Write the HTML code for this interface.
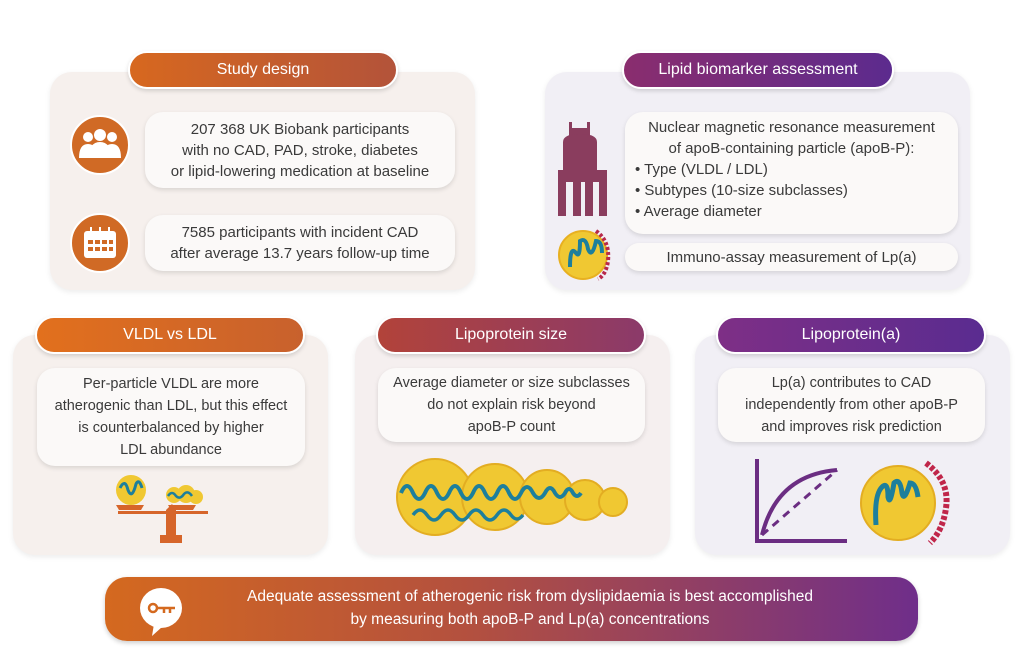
<!DOCTYPE html>
<html><head><meta charset="utf-8"><style>
*{margin:0;padding:0;box-sizing:border-box}
body{width:1024px;height:650px;background:#fff;position:relative;overflow:hidden;font-family:"Liberation Sans",sans-serif;color:#3a3a3a}
.a{position:absolute}
.panel{position:absolute;border-radius:22px;box-shadow:0 2px 6px rgba(0,0,0,.08)}
.warm{background:#f6f0ed}
.cool{background:#f1eff5}
.pill{position:absolute;border-radius:20px;color:#fff;font-size:16px;display:flex;align-items:center;justify-content:center;box-shadow:0 2px 4px rgba(0,0,0,.15);border:2px solid #fff}
.box{position:absolute;background:#fbf9f8;border-radius:18px;box-shadow:0 2px 5px rgba(0,0,0,.12);font-size:14.5px;line-height:21px;text-align:center;display:flex;align-items:center;justify-content:center}
</style></head><body>

<div class="panel warm" style="left:50px;top:72px;width:425px;height:218px"></div>
<div class="pill" style="left:128px;top:51px;width:270px;height:38px;background:linear-gradient(90deg,#d7681f,#b3533a)">Study design</div>
<div class="a" style="left:70px;top:115px;width:60px;height:60px;border-radius:50%;background:#d06a25;border:2px solid #fff"></div>
<svg class="a" style="left:78px;top:128px" width="44" height="32" viewBox="0 0 44 32"><g fill="#fff"><circle cx="10" cy="9" r="5"/><circle cx="22" cy="7" r="6"/><circle cx="34" cy="9" r="5"/><path d="M1 30q0-14 9-14q9 0 9 14z"/><path d="M25 30q0-14 9-14q9 0 9 14z"/><path d="M11 30q0-16 11-16q11 0 11 16z"/></g></svg>
<div class="a" style="left:70px;top:213px;width:60px;height:60px;border-radius:50%;background:#d06a25;border:2px solid #fff"></div>
<svg class="a" style="left:82px;top:226px" width="36" height="34" viewBox="0 0 36 34"><rect x="2" y="5" width="32" height="27" rx="3" fill="#fff"/><g fill="#d06a25"><rect x="6" y="14" width="5" height="4"/><rect x="13" y="14" width="5" height="4"/><rect x="20" y="14" width="5" height="4"/><rect x="27" y="14" width="4" height="4"/><rect x="6" y="21" width="5" height="4"/><rect x="13" y="21" width="5" height="4"/><rect x="20" y="21" width="5" height="4"/><rect x="27" y="21" width="4" height="4"/></g><g stroke="#fff" stroke-width="2"><line x1="9" y1="1" x2="9" y2="7"/><line x1="18" y1="1" x2="18" y2="7"/><line x1="27" y1="1" x2="27" y2="7"/></g></svg>
<div class="box" style="left:145px;top:112px;width:310px;height:76px;font-size:15px">207 368 UK Biobank participants<br>with no CAD, PAD, stroke, diabetes<br>or lipid-lowering medication at baseline</div>
<div class="box" style="left:145px;top:215px;width:310px;height:56px;font-size:15px">7585 participants with incident CAD<br>after average 13.7 years follow-up time</div>

<div class="panel cool" style="left:545px;top:72px;width:425px;height:218px"></div>
<div class="pill" style="left:622px;top:51px;width:272px;height:38px;background:linear-gradient(90deg,#8a2d6e,#5c2b8e)">Lipid biomarker assessment</div>
<svg class="a" style="left:555px;top:122px" width="55" height="95" viewBox="0 0 55 95"><g fill="#8a3d5e"><rect x="14" y="0" width="3" height="10"/><rect x="32" y="0" width="3" height="10"/><rect x="14" y="6" width="21" height="8"/><path d="M8 20q0-8 17-8q17 0 17 8v35H8z"/><rect x="3" y="48" width="49" height="12"/><rect x="3" y="60" width="8" height="34"/><rect x="18" y="60" width="8" height="34"/><rect x="30" y="60" width="8" height="34"/><rect x="44" y="60" width="8" height="34"/></g></svg>
<svg class="a" style="left:556px;top:225px" width="58" height="58" viewBox="0 0 58 58"><circle cx="27" cy="30" r="24" fill="#f0c832" stroke="#e8b020" stroke-width="2"/><path d="M14 42q0-22 6-14q4 6 4-12q6-4 8 8q4 10 8-8q6 0 6 12" stroke="#1d7f9c" stroke-width="4" fill="none"/><path d="M40 6q14 10 12 30q-2 14-10 18" stroke="#b8284a" stroke-width="4" stroke-dasharray="3 2" fill="none"/></svg>
<div class="box" style="left:625px;top:112px;width:333px;height:122px;display:block;text-align:left;padding:5px 0 0 10px;font-size:15px">
<div style="text-align:center;padding-right:10px">Nuclear magnetic resonance measurement<br>of apoB-containing particle (apoB-P):</div>
<div>• Type (VLDL / LDL)</div><div>• Subtypes (10-size subclasses)</div><div>• Average diameter</div></div>
<div class="box" style="left:625px;top:243px;width:333px;height:28px;font-size:15px">Immuno-assay measurement of Lp(a)</div>

<div class="panel warm" style="left:13px;top:335px;width:315px;height:220px"></div>
<div class="pill" style="left:35px;top:316px;width:270px;height:38px;background:linear-gradient(90deg,#e2701d,#c8612d)">VLDL vs LDL</div>
<div class="box" style="left:37px;top:368px;width:268px;height:98px;font-size:14.5px;line-height:22px">Per-particle VLDL are more<br>atherogenic than LDL, but this effect<br>is counterbalanced by higher<br>LDL abundance</div>
<svg class="a" style="left:108px;top:470px" width="120" height="75" viewBox="0 0 120 75"><g fill="#d6652a"><path d="M64 34l-6 6v25h-6v8h22v-8h-6V40z"/><rect x="10" y="41" width="90" height="3"/><path d="M8 35h28l-3 5H11z"/><path d="M60 35h28l-3 5H63z"/></g><circle cx="23" cy="20" r="15" fill="#f0c832"/><path d="M12 18q5-10 8 2q4 10 8-6q3-6 6 4" stroke="#1d7f9c" stroke-width="3" fill="none"/><circle cx="66" cy="25" r="8" fill="#f0c832"/><circle cx="78" cy="24" r="9" fill="#f0c832"/><circle cx="88" cy="27" r="7" fill="#f0c832"/><path d="M60 26q4-6 8 0q4 4 8-2q4-4 8 2" stroke="#1d7f9c" stroke-width="2.5" fill="none"/></svg>

<div class="panel warm" style="left:355px;top:335px;width:315px;height:220px;background:#f5efef"></div>
<div class="pill" style="left:376px;top:316px;width:270px;height:38px;background:linear-gradient(90deg,#b2433a,#8b3a6a)">Lipoprotein size</div>
<div class="box" style="left:378px;top:368px;width:267px;height:74px;font-size:14.5px;line-height:22px">Average diameter or size subclasses<br>do not explain risk beyond<br>apoB-P count</div>
<svg class="a" style="left:395px;top:455px" width="235" height="85" viewBox="0 0 235 85"><circle cx="40" cy="42" r="38" fill="#f0c832" stroke="#e3ad22" stroke-width="2"/><circle cx="100" cy="42" r="33" fill="#f0c832" stroke="#e3ad22" stroke-width="2"/><circle cx="152" cy="42" r="27" fill="#f0c832" stroke="#e3ad22" stroke-width="2"/><circle cx="190" cy="45" r="20" fill="#f0c832" stroke="#e3ad22" stroke-width="2"/><circle cx="218" cy="47" r="14" fill="#f0c832" stroke="#e3ad22" stroke-width="2"/>
<path d="M6 38q6-14 12 0q6 12 12 0q6-14 12 0q6 12 12 0q6-14 12 0q6 12 12 0q6-14 12 0q6 12 12 0q6-14 12 0q6 12 12 0q6-12 12 0q6 10 12 0q5-10 10 0q5 8 10 0q4-8 8 0q4 6 8 0" stroke="#1d7f9c" stroke-width="4" fill="none"/>
<path d="M18 60q7-10 14 0q7 10 14 0q7-10 14 0q7 10 14 0q7-10 14 0q7 10 14 0q7-10 14 0q6 8 12 0" stroke="#1d7f9c" stroke-width="3.5" fill="none"/></svg>

<div class="panel cool" style="left:695px;top:335px;width:315px;height:220px"></div>
<div class="pill" style="left:716px;top:316px;width:270px;height:38px;background:linear-gradient(90deg,#7e2f86,#5a2c90)">Lipoprotein(a)</div>
<div class="box" style="left:718px;top:368px;width:267px;height:74px;font-size:14.5px;line-height:22px">Lp(a) contributes to CAD<br>independently from other apoB-P<br>and improves risk prediction</div>
<svg class="a" style="left:752px;top:455px" width="100" height="90" viewBox="0 0 100 90"><path d="M5 4V86h90" stroke="#6b2d82" stroke-width="4" fill="none"/><path d="M10 80Q25 20 85 15" stroke="#6b2d82" stroke-width="4" fill="none"/><path d="M10 80L85 15" stroke="#6b2d82" stroke-width="3" stroke-dasharray="8 6" fill="none"/></svg>
<svg class="a" style="left:858px;top:455px" width="100" height="92" viewBox="0 0 100 92"><circle cx="40" cy="48" r="37" fill="#f0c832" stroke="#e3ad22" stroke-width="2"/><path d="M18 70q-2-30 6-38q6-6 6 10q2 10 6-14q6-6 8 10q2 10 8-10q6 0 8 14" stroke="#1d7f9c" stroke-width="5" fill="none"/><path d="M68 8q24 18 20 45q-3 22-16 35" stroke="#c0264a" stroke-width="6" stroke-dasharray="4 2" fill="none"/></svg>

<div class="a" style="left:105px;top:577px;width:813px;height:64px;border-radius:22px;background:linear-gradient(90deg,#d4691f,#b3503f 45%,#6f2e8a);box-shadow:0 2px 5px rgba(0,0,0,.2)"></div>
<div class="a" style="left:140px;top:588px;width:42px;height:40px;border-radius:50%;background:#fff"></div>
<svg class="a" style="left:140px;top:588px" width="48" height="50" viewBox="0 0 48 50"><path d="M14 36l-2 12l10-9z" fill="#fff"/><circle cx="13" cy="20" r="4" stroke="#d4691f" stroke-width="2.5" fill="none"/><path d="M17 20h18M24 20v5M30 20v5" stroke="#d4691f" stroke-width="2.5"/></svg>
<div class="a" style="left:190px;top:585px;width:680px;text-align:center;color:#fff;font-size:15.5px;line-height:23px">Adequate assessment of atherogenic risk from dyslipidaemia is best accomplished<br>by measuring both apoB-P and Lp(a) concentrations</div>
</body></html>
